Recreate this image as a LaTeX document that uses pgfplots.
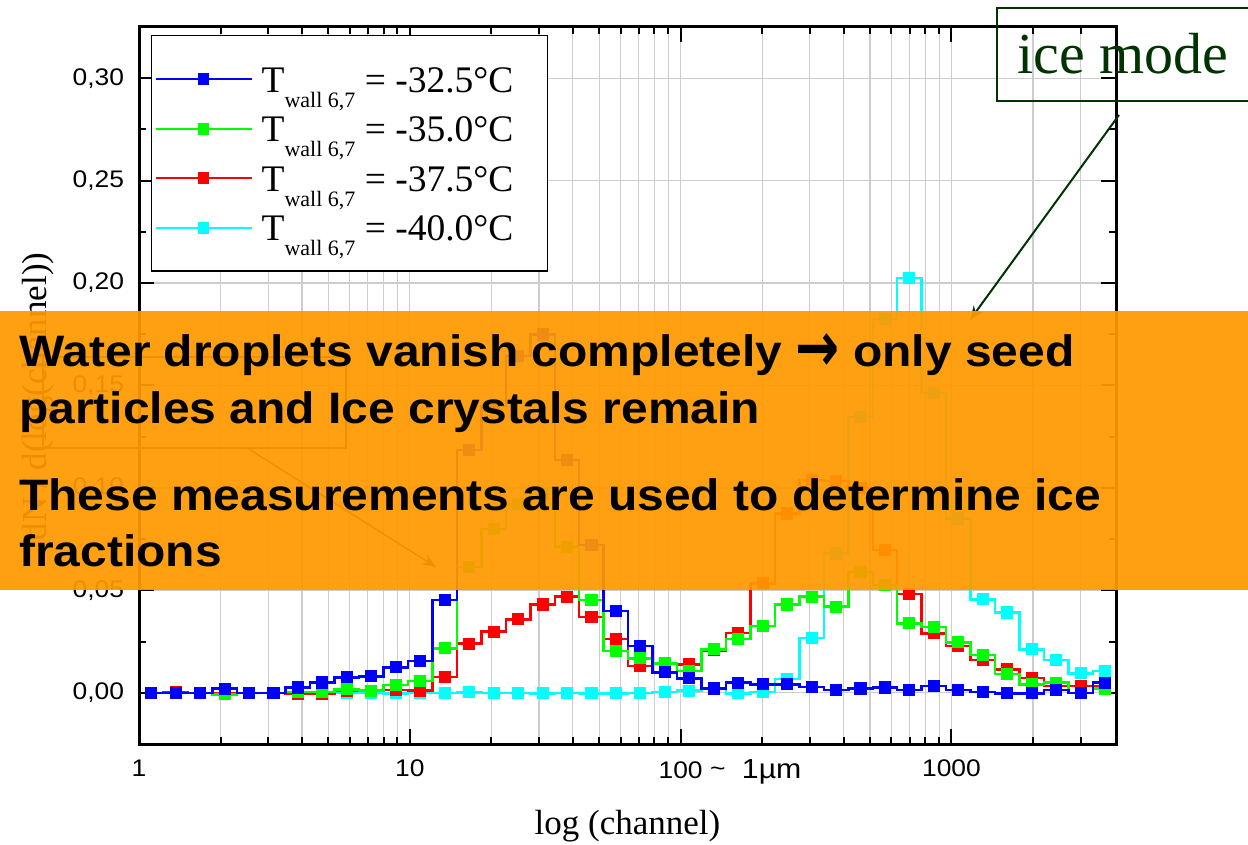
\documentclass[border=0pt]{standalone}
\usepackage{graphicx}
\usepackage{pgfplots}
\usepackage{pgfplotstable}
\pgfplotsset{compat=1.18}
\usepackage{fontspec}
\setmainfont{Liberation Serif}
\newfontfamily\arialfont{Liberation Sans}
\newfontfamily\arrowfont{DejaVu Sans Bold}
\usetikzlibrary{arrows.meta}

\definecolor{iceGreen}{RGB}{0,51,0}
\definecolor{bannerOrange}{RGB}{255,153,0}
\definecolor{gridGray}{RGB}{205,205,205}
\definecolor{cBlue}{RGB}{0,0,255}
\definecolor{cGreen}{RGB}{0,255,0}
\definecolor{cRed}{RGB}{255,0,0}
\definecolor{cCyan}{RGB}{0,255,255}

% channel (bin centre) and normalised counts for the four wall temperatures
\pgfplotstableread{
ch      b       g       r       c
1.1096  0       0       0       0
1.3660  0       0       0.0005  0
1.6818  0       0       0       0
2.0705  0.0020  -0.0008 0       0
2.5491  0       0       0       0
3.1383  0       0       0       0
3.8637  0.0026  0.0005  -0.0005 0
4.7568  0.0050  0.0005  -0.0005 0
5.8563  0.0075  0.0017  0.0008  0
7.2100  0.0080  0.0010  0.0008  0
8.8766  0.0124  0.0037  0.0013  -0.0003
10.928  0.0156  0.0058  0.0010  0
13.454  0.0452  0.0217  0.0078  0
16.564  0.1184  0.0615  0.0240  0.0002
20.393  0.1400  0.0800  0.0298  0
25.107  0.1643  0.0920  0.0358  0
30.910  0.1749  0.0970  0.0431  -0.0003
38.055  0.1136  0.0713  0.0469  0
46.851  0.0721  0.0452  0.0371  -0.0003
57.681  0.0400  0.0205  0.0262  -0.0003
71.013  0.0229  0.0168  0.0130  0
87.427  0.0100  0.0143  0.0140  0.0005
107.63  0.0070  0.0107  0.0139  0.0010
132.51  0.0021  0.0212  0.0207  0.0020
163.14  0.0049  0.0262  0.0293  -0.0003
200.85  0.0041  0.0327  0.0534  0.0005
247.28  0.0041  0.0431  0.0875  0.0067
304.44  0.0029  0.0469  0.1038  0.0268
374.81  0.0013  0.0420  0.1035  0.0680
461.44  0.0021  0.0590  0.1000  0.1347
568.10  0.0026  0.0526  0.0696  0.1824
699.41  0.0013  0.0339  0.0482  0.2024
861.08  0.0033  0.0322  0.0290  0.1464
1060.1  0.0013  0.0246  0.0228  0.0851
1305.2  0.0005  0.0184  0.0160  0.0456
1606.9  -0.0003 0.0091  0.0114  0.0392
1978.3  -0.0003 0.0041  0.0073  0.0212
2435.5  0.0013  0.0049  0.0033  0.0160
2998.5  0       0       0.0033  0.0095
3691.6  0.0049  0.0020  0.0030  0.0106
}\spectra

\newcommand{\twall}[1]{T\raisebox{-15pt}{\fontsize{22}{23}\selectfont wall 6,7} = #1\hspace*{30pt}}
\newcommand{\bigarrow}{\raisebox{-4.8pt}{\scalebox{1.1}[1.6]{\arrowfont →}}}

\begin{document}
\begin{tikzpicture}[x=1pt,y=1pt]
\useasboundingbox (0,0) rectangle (1248,844);
\begin{axis}[
  at={(139pt,100pt)}, anchor=south west,
  scale only axis, width=977pt, height=717pt,
  xmode=log, log basis x=10,
  xmin=1, xmax=4050, ymin=-0.025, ymax=0.325,
  xtick={1,10,100,1000},
  xticklabels={1,10,{100\rlap{\ \raisebox{2pt}{\textasciitilde}\hspace{15pt}{\fontsize{27.5}{28}\selectfont 1µm}}},1000},
  minor xtick={2,3,4,5,6,7,8,9,20,30,40,50,60,70,80,90,200,300,400,500,600,700,800,900,2000,3000},
  ytick={0,0.05,0.1,0.15,0.2,0.25,0.3},
  yticklabels={{0,00},{0,05},{0,10},{0,15},{0,20},{0,25},{0,30}},
  minor ytick={0.025,0.075,0.125,0.175,0.225,0.275},
  xmajorgrids, xminorgrids, ymajorgrids,
  major grid style={gridGray, line width=1.2pt},
  minor grid style={gridGray, line width=1.2pt},
  tick align=inside, tick pos=both,
  major tick length=15pt, minor tick length=7.5pt,
  tick style={black, line width=2pt},
  axis line style={line width=3pt},
  xticklabel style={font=\arialfont\fontsize{24}{26}\selectfont, xscale=1.1, yshift=-12pt},
  yticklabel style={font=\arialfont\fontsize{24}{26}\selectfont, xscale=1.1, xshift=-10pt},
  every axis plot/.append style={line width=2.5pt, const plot mark mid,
    mark=square*, mark size=4.8pt, mark options={solid, line width=0.5pt}},
  reverse legend,
  legend cell align=left,
  legend style={
    at={(0.012,0.989)}, anchor=north west,
    draw=black, line width=1.5pt, fill=white,
    inner xsep=3pt, inner ysep=18.8pt,
    row sep=0pt,
    /tikz/every odd column/.append style={column sep=8pt},
    nodes={inner sep=1pt, text height=36.75pt, text depth=10.75pt,
      font=\fontsize{37.5}{40}\selectfont},
  },
  legend image code/.code={
    \draw[mark repeat=2, mark phase=2, #1, sharp plot, line width=2.2pt]
      plot coordinates {(0pt,0pt) (48pt,0pt) (96pt,0pt)};
  },
]
\addplot[cCyan, mark options={fill=cCyan, draw=cCyan}] table[x=ch, y=c] {\spectra};
\addlegendentry{\twall{-40.0°C}}
\addplot[cRed, mark options={fill=cRed, draw=cRed}] table[x=ch, y=r] {\spectra};
\addlegendentry{\twall{-37.5°C}}
\addplot[cGreen, mark options={fill=cGreen, draw=cGreen}] table[x=ch, y=g] {\spectra};
\addlegendentry{\twall{-35.0°C}}
\addplot[cBlue, mark options={fill=cBlue, draw=cBlue}] table[x=ch, y=b] {\spectra};
\addlegendentry{\twall{-32.5°C}}
\end{axis}

% axis titles
\node[rotate=90, anchor=base, font=\fontsize{35}{38}\selectfont] at (46,447.5) {dN / d(log(channel))};
\node[anchor=base, font=\fontsize{35}{38}\selectfont] at (627.5,10) {log (channel)};

% water mode marker box and its arrow
\draw[iceGreen, line width=1.5pt] (43,487) rectangle (346,396);
\draw[iceGreen, line width=1.5pt, -{Stealth[length=14pt, width=11pt]}] (247,396) -- (436,277);

% ice mode arrow
\draw[iceGreen, line width=2pt, -{Stealth[length=14pt, width=11pt]}] (1119,729) -- (970,524);

% highlighted statement
\fill[bannerOrange, fill opacity=0.93] (0,254) rectangle (1248,533);
\begin{scope}[every node/.style={anchor=base west, inner sep=0pt, xscale=1.09,
    font=\arialfont\bfseries\fontsize{44}{50}\selectfont}]
\node at (19,477.3) {Water droplets vanish completely \bigarrow{} only seed};
\node at (19,420.7) {particles and Ice crystals remain};
\node at (19,333.3) {These measurements are used to determine ice};
\node at (19,277.3) {fractions};
\end{scope}

% ice mode label
\draw[iceGreen, line width=2pt] (997.3,835.7) rectangle (1262,743);
\node[anchor=base west, inner sep=0pt, text=iceGreen, font=\fontsize{58}{60}\selectfont] at (1017,770) {ice mode};
\end{tikzpicture}
\end{document}
